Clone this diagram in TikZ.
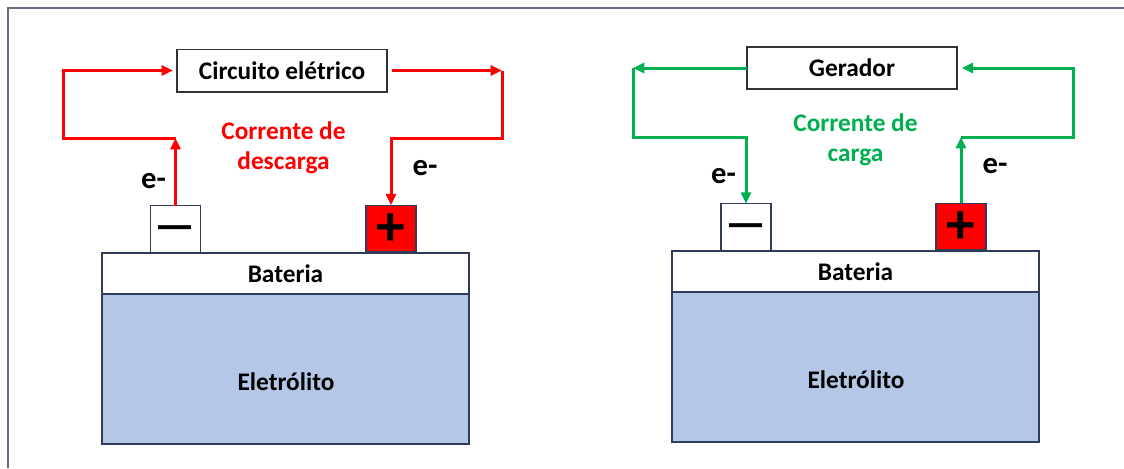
\documentclass[tikz,border=0pt]{standalone}
\usepackage{fontspec}
\setmainfont{Carlito}
\usetikzlibrary{arrows.meta}
\definecolor{pptred}{RGB}{255,0,0}
\definecolor{pptgreen}{RGB}{0,176,80}
\definecolor{elfill}{RGB}{180,199,231}
\definecolor{batline}{RGB}{47,60,90}
\definecolor{framegray}{RGB}{100,110,128}
\newcommand\termsym[3]{\smash{\raisebox{#2}{\fontsize{#3}{#3}\selectfont\bfseries #1}}}
\begin{document}
\begin{tikzpicture}[x=0.75pt,y=-0.75pt,
  txt/.style={font=\fontsize{19}{22.5}\selectfont\bfseries},
  box/.style={txt,draw=black!80,line width=1pt,fill=white,inner sep=0pt,outer sep=0pt,minimum width=157.5pt,minimum height=32pt},
  term/.style={draw=batline,line width=1pt,inner sep=0pt,outer sep=0pt,minimum width=37.5pt,minimum height=35pt},
  batbox/.style={txt,draw=batline,line width=1.1pt,fill=white,inner sep=0pt,outer sep=0pt,minimum width=275.25pt,minimum height=30.75pt},
  elbox/.style={draw=batline,line width=1.1pt,fill=elfill,inner sep=0pt,outer sep=0pt,minimum width=275.25pt,minimum height=112.5pt},
  lbl/.style={txt,inner sep=0pt,anchor=base},
  elec/.style={font=\fontsize{23}{27}\selectfont\bfseries,inner sep=0pt,anchor=base},
  flow/.style={line width=2.25pt,line join=miter,-{Triangle[length=8.5pt,width=7.5pt]}},
  flowred/.style={flow,draw=pptred,color=pptred},
  flowgreen/.style={flow,draw=pptgreen,color=pptgreen}]
\useasboundingbox (0,0) rectangle (1124,468);
\fill[white] (0,0) rectangle (1124,468);
\draw[framegray,line width=1.2pt] (8,468) -- (8,8) -- (1124,8);

% ---------- left panel (descarga) ----------
\node[elbox] (el1) at (285.5,369) {};
\node[batbox] (bat1) at (285.5,273.5) {Bateria};
\node[lbl] (eltxt1) at (286,390) {Eletrólito};
\node[term,fill=white] (minus1) at (175.5,229) {\termsym{—}{-8.5pt}{34}};
\node[term,fill=pptred] (plus1) at (391,228.5) {\termsym{+}{-13pt}{43}};
\node[box] (circ) at (282,70.5) {Circuito elétrico};
\node[txt,text=pptred,align=center,inner sep=0pt] (cur1) at (283.5,148) {Corrente de\\descarga};
\node[elec] (e1a) at (153.5,188) {e-};
\node[elec] (e1b) at (425,175) {e-};

\coordinate (L1) at (175.5,138);
\coordinate (L2) at (63,138);
\coordinate (L3) at (63,70.5);
\coordinate (R1) at (502,70.5);
\coordinate (R2) at (502,138);
\coordinate (R3) at (391,138);
\draw[flowred] (minus1.north) -- (L1);
\draw[flowred,shorten >=3pt] (L1) -- (L2) -- (L3) -- (circ.west);
\draw[flowred,shorten <=3.5pt] (circ.east) -- (R1);
\draw[flowred] (R1) -- (R2) -- (R3) -- (plus1.north);

% ---------- right panel (carga) ----------
\node[elbox] (el2) at (855.5,367) {};
\node[batbox] (bat2) at (855.5,271.5) {Bateria};
\node[lbl] (eltxt2) at (856,388) {Eletrólito};
\node[term,fill=white] (minus2) at (746,227) {\termsym{—}{-8.5pt}{34}};
\node[term,fill=pptred] (plus2) at (961,226.5) {\termsym{+}{-13pt}{43}};
\node[box,minimum height=31.5pt] (ger) at (852,68) {Gerador};
\node[txt,text=pptgreen,align=center,inner sep=0pt] (cur2) at (855.5,140) {Corrente de\\carga};
\node[elec] (e2a) at (723.5,183) {e-};
\node[elec] (e2b) at (995,173) {e-};

\coordinate (G1) at (633,68);
\coordinate (G2) at (633,137);
\coordinate (G3) at (746,137);
\coordinate (G4) at (961,137);
\coordinate (G5) at (1073,137);
\coordinate (G6) at (1073,68);
\draw[flowgreen] (ger.west) -- (G1);
\draw[flowgreen] (G1) -- (G2) -- (G3) -- (minus2.north);
\draw[flowgreen] (plus2.north) -- (G4);
\draw[flowgreen,shorten >=3.5pt] (G4) -- (G5) -- (G6) -- (ger.east);
\end{tikzpicture}
\end{document}
